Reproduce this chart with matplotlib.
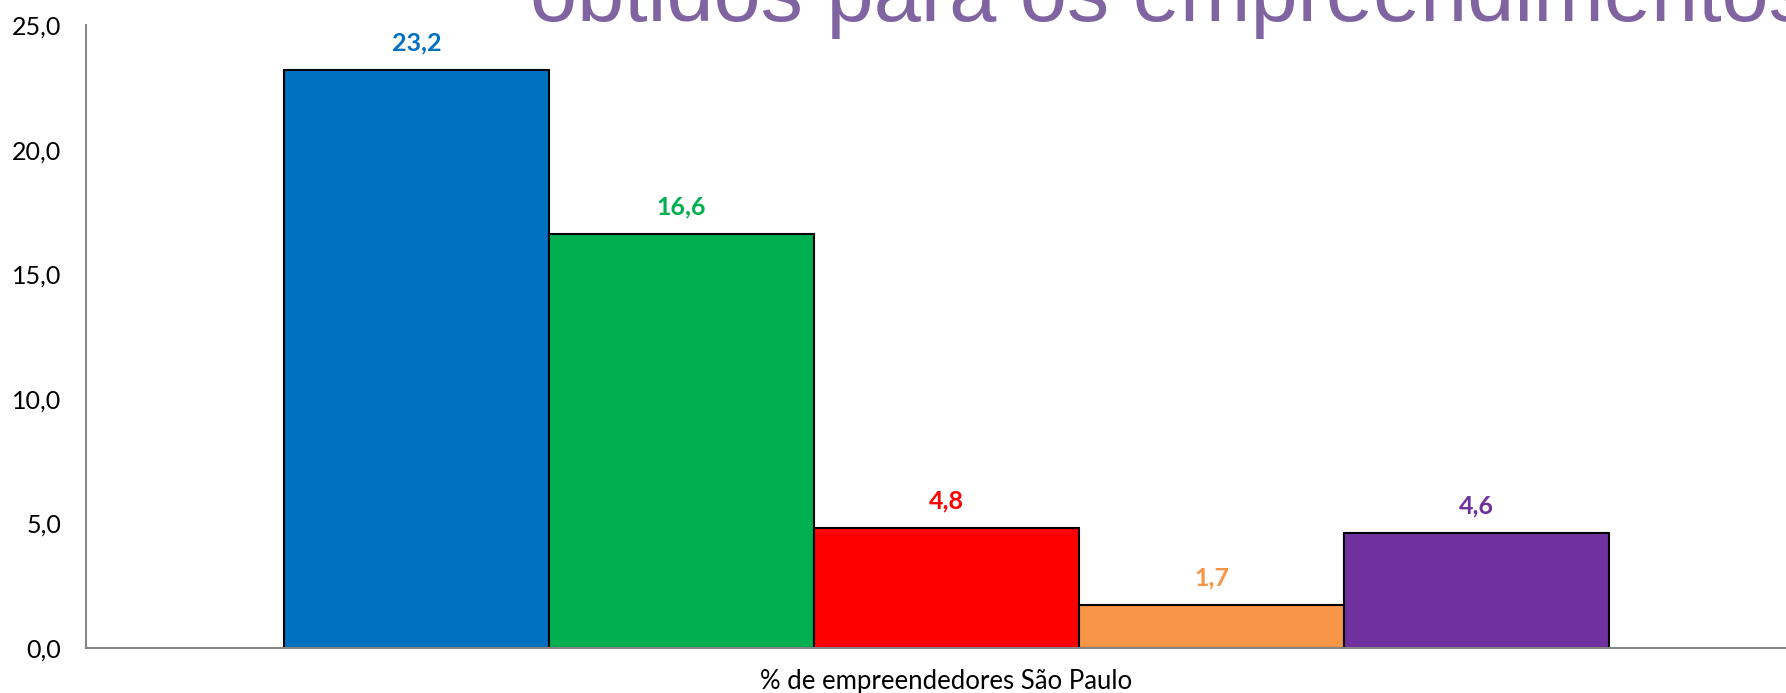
import matplotlib
matplotlib.use("Agg")
import matplotlib.pyplot as plt

# Data
categories = ["A", "B", "C", "D", "E"]
values = [23.2, 16.6, 4.8, 1.7, 4.6]
labels = ["23,2", "16,6", "4,8", "1,7", "4,6"]
colors = ["#0070C0", "#00B050", "#FF0000", "#F79646", "#7030A0"]
yticks = [0, 5, 10, 15, 20, 25]
ytick_labels = ["0,0", "5,0", "10,0", "15,0", "20,0", "25,0"]
group_label = "% de empreendedores São Paulo"
title_text = "obtidos para os empreendimentos"

W, H = 1786, 693
fig = plt.figure(figsize=(W / 100, H / 100), dpi=100)
fig.patch.set_facecolor("white")

left_px, right_px = 86, 1807
bottom_px, top_px = 647.7, 25.2
ax = fig.add_axes([left_px / W, (H - bottom_px) / H,
                   (right_px - left_px) / W, (bottom_px - top_px) / H])
ax.set_facecolor("white")

x = list(range(len(values)))
bars = ax.bar(x, values, width=1.0, color=colors, edgecolor="black",
              linewidth=1.5, zorder=3)

for xi, v, lab, c in zip(x, values, labels, colors):
    ax.annotate(lab, (xi, v), xytext=(0, 19.5), textcoords="offset points",
                ha="center", va="center", color=c, fontsize=18,
                fontweight="bold", family=["Lato", "DejaVu Sans"])

gap = 198 / 264.9
ax.set_xlim(-0.5 - gap, len(values) - 0.5 + gap)
ax.set_ylim(0, 25)

ax.set_yticks(yticks)
ax.set_yticklabels(ytick_labels, fontsize=18, family=["Lato", "DejaVu Sans"])
ax.tick_params(axis="y", length=0, pad=18)

ax.set_xticks([2])
ax.set_xticklabels([group_label], fontsize=18.5, family=["Lato", "DejaVu Sans"])
ax.tick_params(axis="x", length=0, pad=15)

for s in ["top", "right"]:
    ax.spines[s].set_visible(False)
for s in ["left", "bottom"]:
    ax.spines[s].set_color("#868686")
    ax.spines[s].set_linewidth(1.5)
ax.spines["bottom"].set_zorder(4)

fig.text(530 / W, (H - 20.7) / H, title_text, fontsize=61,
         color="#8064A2", ha="left", va="baseline",
         family=["Liberation Sans", "DejaVu Sans"])

fig.savefig("out.png", dpi=100, facecolor="white")
